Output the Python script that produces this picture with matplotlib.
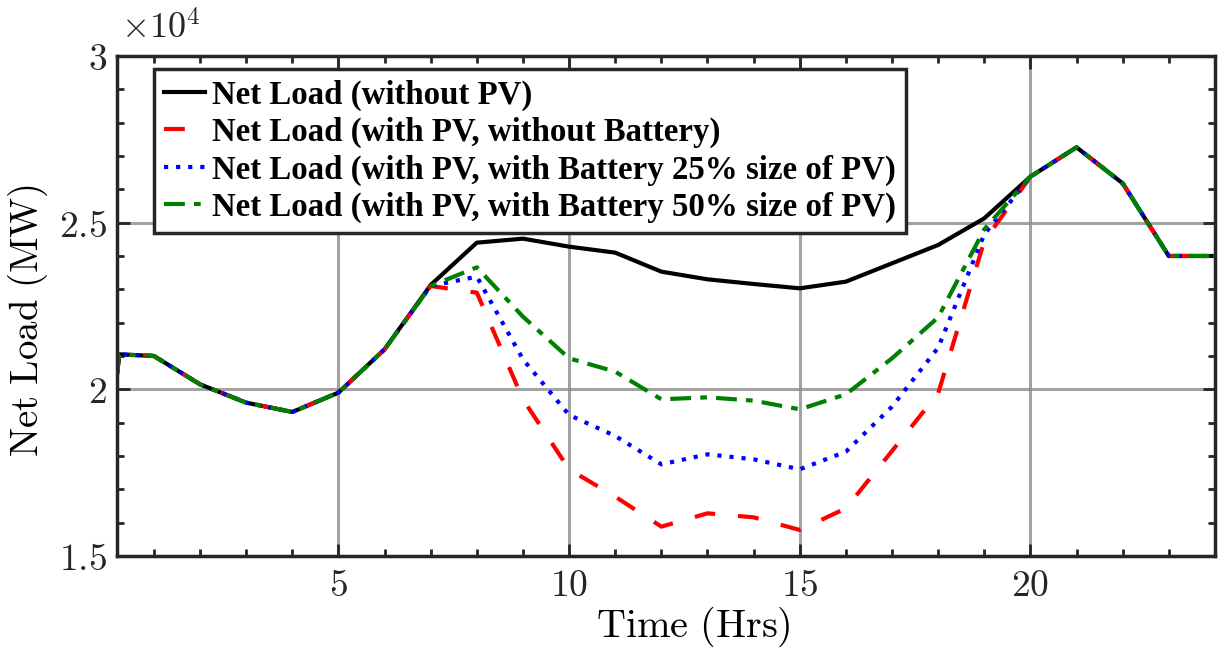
import matplotlib
matplotlib.use("Agg")
import matplotlib.pyplot as plt
from matplotlib.ticker import MultipleLocator, FuncFormatter

plt.rcParams["mathtext.fontset"] = "cm"

# Hourly net load (MW)
hours = [0.2, 0.25, 1, 2, 3, 4, 5, 6, 7, 8, 9, 10, 11, 12,
         13, 14, 15, 16, 17, 18, 19, 20, 21, 22, 23, 24]

load_no_pv = [20450, 21050, 21000, 20150, 19600, 19320, 19900, 21200, 23130,
              24400, 24520, 24280, 24100, 23530, 23300, 23160, 23030, 23230,
              23780, 24330, 25130, 26380, 27260, 26180, 24000, 24000]

load_pv = [20450, 21050, 21000, 20150, 19600, 19320, 19900, 21200, 23100,
           22900, 19700, 17600, 16780, 15880, 16280, 16160, 15780, 16430,
           18150, 19880, 24450, 26380, 27260, 26180, 24000, 24000]

load_pv_bat25 = [20450, 21050, 21000, 20150, 19600, 19320, 19900, 21200, 23100,
                 23380, 20900, 19230, 18600, 17750, 18050, 17900, 17600, 18130,
                 19480, 21250, 24650, 26380, 27260, 26180, 24000, 24000]

load_pv_bat50 = [20450, 21050, 21000, 20150, 19600, 19320, 19900, 21200, 23100,
                 23660, 22180, 20930, 20530, 19700, 19760, 19660, 19400, 19850,
                 20930, 22160, 24800, 26380, 27260, 26180, 24000, 24000]

labels = ["Net Load (without PV)",
          "Net Load (with PV, without Battery)",
          "Net Load (with PV, with Battery 25% size of PV)",
          "Net Load (with PV, with Battery 50% size of PV)"]

fig = plt.figure(figsize=(12.25, 6.48), dpi=100)
ax = fig.add_axes([0.0955, 0.142, 0.8963, 0.7716])

lw = 3.0
l1, = ax.plot(hours, load_no_pv, color="black", lw=lw, label=labels[0])
l2, = ax.plot(hours, load_pv, color="#ff0000", lw=lw, label=labels[1],
              dashes=(5.0, 5.5), dash_capstyle="butt")
l3, = ax.plot(hours, load_pv_bat25, color="#0000ff", lw=lw, label=labels[2],
              dashes=(1.0, 1.9), dash_capstyle="butt")
l4, = ax.plot(hours, load_pv_bat50, color="#008000", lw=lw, label=labels[3],
              dashes=(5.0, 2.2, 1.6, 2.2), dash_capstyle="butt")

ax.set_xlim(0.2, 24)
ax.set_ylim(15000, 30000)

ax.xaxis.set_major_locator(MultipleLocator(5))
ax.xaxis.set_minor_locator(MultipleLocator(1))
ax.yaxis.set_major_locator(MultipleLocator(5000))
ax.yaxis.set_minor_locator(MultipleLocator(1000))

ax.xaxis.set_major_formatter(FuncFormatter(lambda v, p: r"$%d$" % round(v)))
ax.yaxis.set_major_formatter(FuncFormatter(lambda v, p: r"$%g$" % (v / 1e4)))

ax.tick_params(which="both", direction="in", top=True, right=True,
               colors="#262626", labelsize=27, width=2)
ax.tick_params(which="major", length=9)
ax.tick_params(which="minor", length=5)
ax.tick_params(axis="x", which="major", pad=9)
ax.tick_params(axis="y", which="major", pad=7)

for s in ax.spines.values():
    s.set_linewidth(2.5)
    s.set_color("#262626")

ax.grid(True, which="major", color="#8c8c8c", lw=2.2, alpha=0.8)
ax.set_axisbelow(True)

ax.set_xlabel(r"$\mathrm{Time\ (Hrs)}$", fontsize=29)
ax.xaxis.set_label_coords(0.525, -0.098, transform=ax.transAxes)
ax.xaxis.label.set_va("top")
ax.set_ylabel(r"$\mathrm{Net\ Load\ (MW)}$", fontsize=28)
ax.yaxis.set_label_coords(-0.081, 0.47, transform=ax.transAxes)
ax.yaxis.label.set_va("center")
ax.yaxis.label.set_ha("center")
ax.text(0.004, 1.02, r"$\times 10^4$", transform=ax.transAxes, fontsize=26,
        ha="left", va="bottom", color="#262626")

leg = ax.legend(handles=[l1, l2, l3, l4], loc="upper left",
                bbox_to_anchor=(0.034, 0.973),
                prop={"family": "Liberation Serif", "weight": "bold", "size": 23.7},
                frameon=True, fancybox=False, framealpha=1, edgecolor="#262626",
                handlelength=1.25, handletextpad=0.2, labelspacing=0.19,
                borderpad=0.3, borderaxespad=0)
leg.get_frame().set_linewidth(2.5)

fig.savefig("out.png", dpi=100)
